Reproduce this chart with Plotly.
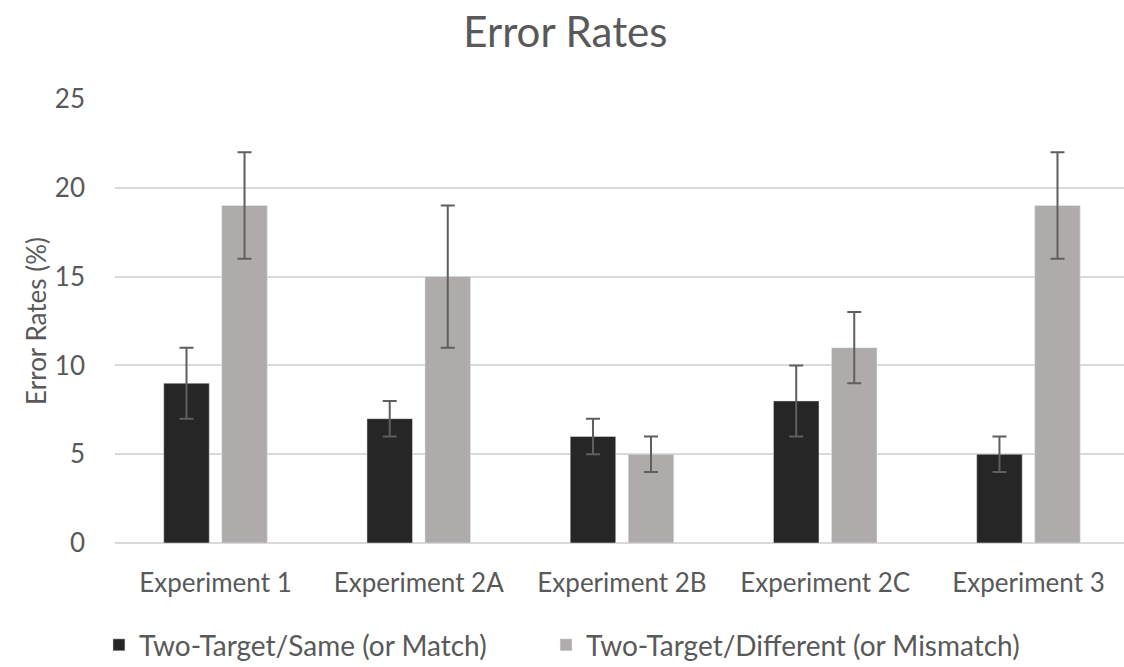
import plotly.graph_objects as go

categories = ["Experiment 1", "Experiment 2A", "Experiment 2B", "Experiment 2C", "Experiment 3"]
same_vals = [9, 7, 6, 8, 5]
same_err = [2, 1, 1, 2, 1]
diff_vals = [19, 15, 5, 11, 19]
diff_err = [3, 4, 1, 2, 3]
y_ticks = [0, 5, 10, 15, 20, 25]

FONT = "Lato"
TXT = "#595959"
ERRC = "#5f5f5f"

fig = go.Figure()
fig.add_trace(go.Bar(
    x=categories, y=same_vals, name="Two-Target/Same (or Match)",
    marker=dict(color="#262626"), legend="legend",
    error_y=dict(type="data", array=same_err, color=ERRC, thickness=2, width=7),
))
fig.add_trace(go.Bar(
    x=categories, y=diff_vals, name="Two-Target/Different (or Mismatch)",
    marker=dict(color="#afabab"), legend="legend2",
    error_y=dict(type="data", array=diff_err, color=ERRC, thickness=2, width=7),
))

legend_common = dict(orientation="h", xanchor="left", y=-0.23, yanchor="middle",
                     font=dict(family=FONT, size=28, color=TXT), itemwidth=30,
                     bgcolor="rgba(0,0,0,0)")

fig.update_layout(
    width=1124, height=667,
    margin=dict(l=115, r=0, t=99, b=124, autoexpand=False),
    paper_bgcolor="white", plot_bgcolor="white",
    barmode="group", bargap=0.429, bargroupgap=0.215,
    font=dict(family=FONT, color=TXT, size=26),
    title=dict(text="Error Rates", x=0.503, xref="container", y=0.952, yanchor="middle",
               font=dict(family=FONT, size=42, color=TXT)),
    showlegend=True,
    legend=dict(x=-0.0159, **legend_common),
    legend2=dict(x=0.4272, **legend_common),
    xaxis=dict(range=[-0.4945, 4.47], showgrid=False, showline=False, ticks="",
               ticklabelstandoff=22, automargin=False,
               tickfont=dict(family=FONT, size=26, color=TXT)),
    yaxis=dict(range=[0, 25], tickvals=y_ticks, showgrid=True, gridcolor="#d9d9d9", gridwidth=1.5,
               zeroline=True, zerolinecolor="#d9d9d9", zerolinewidth=1.5,
               showline=False, ticks="", ticklabelstandoff=29, automargin=False,
               tickfont=dict(family=FONT, size=26, color=TXT),
               title=dict(text="Error Rates (%)", font=dict(family=FONT, size=26, color=TXT), standoff=0)),
)

fig.write_html("out.html", config={"displayModeBar": False},
               post_script="document.body.style.margin='0';document.body.style.padding='0';")
